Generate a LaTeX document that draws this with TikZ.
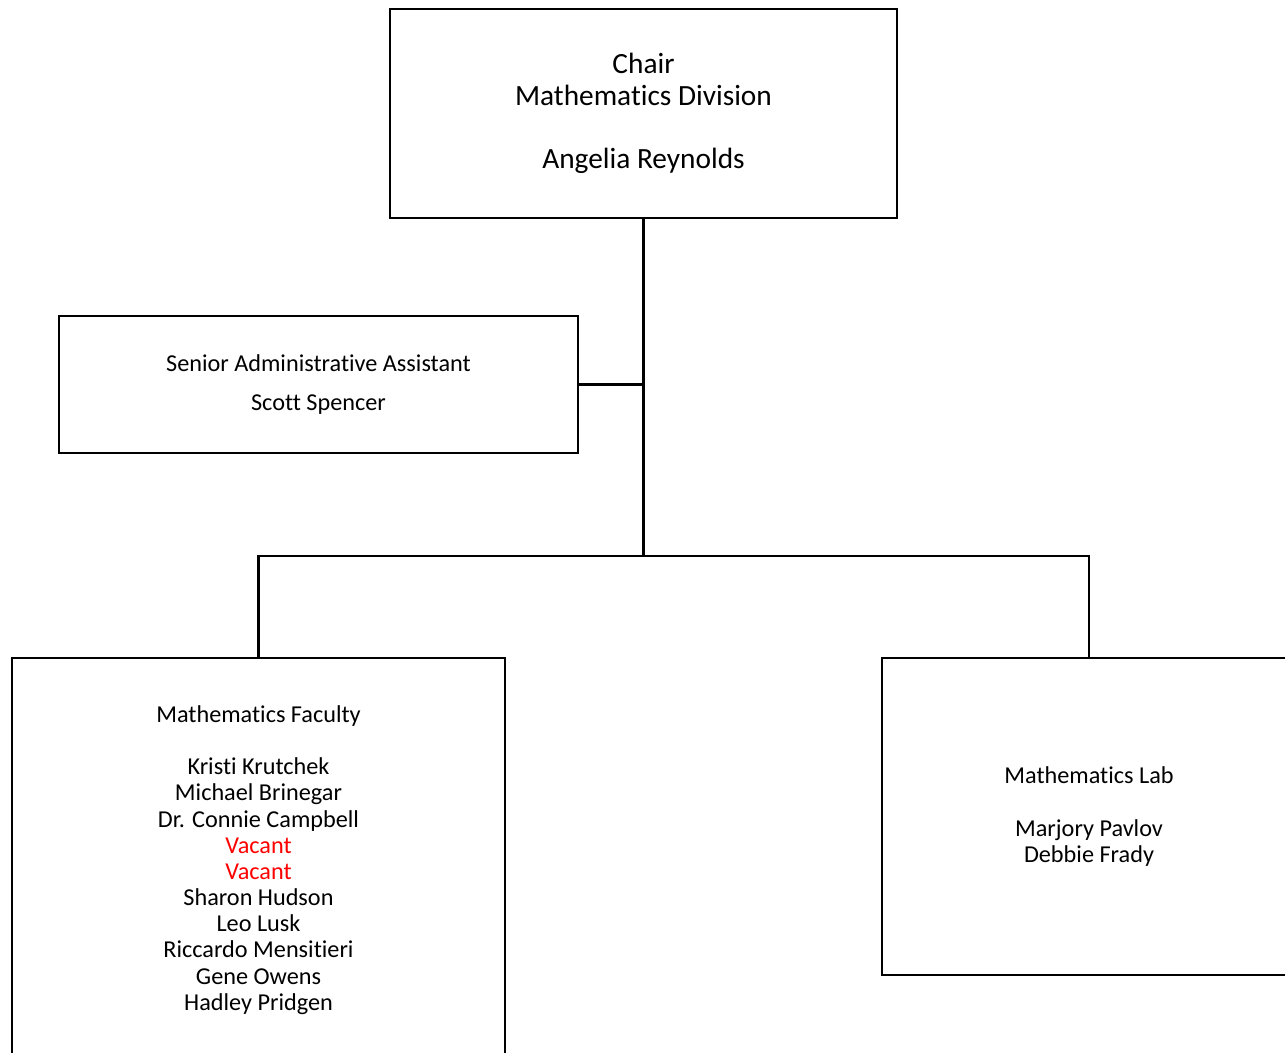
\documentclass[tikz,border=0pt]{standalone}
\usepackage{fontspec}
\setmainfont{Carlito}[Ligatures=NoCommon]
\usepackage{tikz}
\usetikzlibrary{calc}

\begin{document}
\begin{tikzpicture}[x=0.02cm,y=-0.02cm,line width=1.2pt,
        box/.style={draw,rectangle,align=center,inner sep=0pt},
        small/.style={font=\fontsize{13.8}{14.9}\selectfont},
        big/.style={font=\fontsize{16.7}{18}\selectfont}]
        % fix the page size and cut what runs over it
        \useasboundingbox (0,0) rectangle (1285,1053);
        \clip (0,0) rectangle (1285,1053);

        % draw the boxes
        \node[box,big,minimum width=10.14cm,minimum height=4.18cm] (chair) at (643.5,113.5)
              {Chair\\Mathematics Division\\[18pt]Angelia Reynolds};
        \node[box,small,minimum width=10.38cm,minimum height=2.74cm] (senior) at (318.5,384.5)
              {Senior Administrative Assistant\\[7.8pt]Scott Spencer};
        \node[box,small,minimum width=9.86cm,minimum height=8.08cm] (faculty) at (258.5,860)
              {Mathematics Faculty\\[14.9pt]
               Kristi Krutchek\\Michael Brinegar\\Dr. Connie Campbell\\
               \textcolor{red}{Vacant}\\\textcolor{red}{Vacant}\\
               Sharon Hudson\\Leo Lusk\\Riccardo Mensitieri\\Gene Owens\\Hadley Pridgen};
        \node[box,small,minimum width=8.28cm,minimum height=6.34cm] (lab) at (1089,816.5)
              {Mathematics Lab\\[14.9pt]Marjory Pavlov\\Debbie Frady};

        % draw the lines between them
        \coordinate (split) at (643.5,556);
        \draw (chair.south) -- (split);
        \draw (senior.east) -- (senior.east -| chair.south);
        \draw (faculty.north) |- (split) -| (lab.north);
\end{tikzpicture}
\end{document}
